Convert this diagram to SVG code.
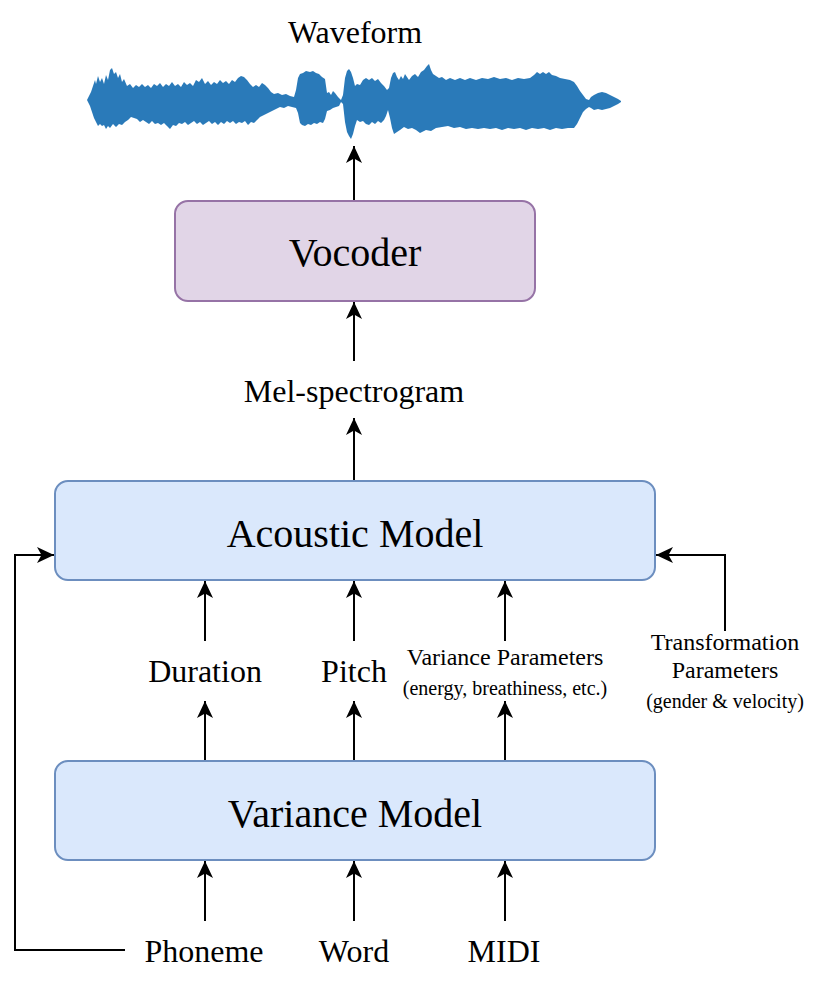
<svg xmlns="http://www.w3.org/2000/svg" width="818" height="982" viewBox="0 0 818 982">
<style>
text{font-family:"Liberation Serif","Times New Roman",serif;fill:#000;text-anchor:middle}
.big{font-size:40px}
.mid{font-size:32px}
.sm{font-size:24px}
.xs{font-size:20px}
.edge{fill:none;stroke:#000;stroke-width:2}
</style>
<defs>
<marker id="ah" markerUnits="userSpaceOnUse" markerWidth="18" markerHeight="18" refX="17" refY="8" orient="auto">
<path d="M0,0 L17,8 L0,16 L4.5,8 z" fill="#000"/>
</marker>
</defs>
<rect width="818" height="982" fill="#fff"/>
<g id="waveform">
<path fill="#2a7ab9" d="M87,100 L89,96 L91,92 L93,86 L95,80 L96,84 L98,76 L100,82 L102,78 L104,84 L106,75 L108,80 L110,70 L112,68 L114,74 L116,72 L118,78 L120,74 L122,82 L124,79 L127,86 L130,84 L133,88 L136,85 L139,87 L142,84 L145,87 L148,85 L151,88 L154,84 L157,86 L160,83 L163,87 L166,84 L169,86 L172,82 L175,86 L178,84 L181,87 L184,82 L187,85 L190,83 L193,86 L196,80 L199,82 L202,78 L205,84 L208,81 L211,85 L214,82 L217,84 L220,80 L223,83 L226,81 L229,84 L232,80 L235,82 L238,78 L241,76 L244,77 L247,80 L250,84 L253,87 L256,85 L259,87 L262,83 L265,85 L268,88 L271,92 L274,94 L278,93 L282,95 L286,94 L290,96 L294,97 L296,90 L298,78 L300,74 L303,73 L306,71 L310,72 L313,71 L316,73 L319,74 L322,77 L325,79 L327,93 L329,92 L331,95 L333,91 L335,93 L338,97 L341,100 L343,95 L345,78 L347,71 L349,69 L351,72 L353,78 L355,86 L357,84 L360,85 L363,80 L366,78 L369,80 L372,78 L375,81 L378,79 L381,83 L384,86 L387,90 L389,88 L391,78 L393,73 L395,72 L397,77 L399,80 L401,76 L403,79 L405,74 L407,77 L409,80 L412,76 L415,74 L418,77 L421,72 L424,70 L427,66 L429,64 L431,70 L433,74 L436,76 L439,78 L442,77 L446,80 L450,78 L455,80 L460,78 L465,80 L470,78 L476,80 L482,78 L488,79 L494,77 L500,79 L506,78 L512,80 L518,78 L524,79 L530,78 L534,75 L537,72 L540,74 L543,72 L546,74 L549,72 L552,75 L556,76 L560,78 L565,79 L570,80 L574,82 L577,86 L580,91 L583,95 L586,99 L589,100 L591,97 L594,95 L598,93 L602,92 L606,93 L610,95 L614,97 L618,99 L621,101 L621,102 L618,104 L614,106 L610,108 L606,109 L602,110 L598,109 L594,110 L591,108 L589,107 L586,109 L583,112 L580,118 L577,124 L574,128 L568,128 L562,129 L556,128 L550,130 L544,128 L538,129 L532,128 L526,130 L520,128 L514,129 L508,128 L502,130 L496,128 L490,129 L484,128 L478,129 L472,128 L466,129 L460,127 L454,128 L448,126 L442,127 L436,128 L431,131 L426,130 L420,133 L416,130 L412,128 L408,129 L404,127 L400,130 L397,132 L394,134 L392,128 L390,118 L388,110 L386,116 L384,120 L381,123 L378,121 L375,124 L372,122 L369,125 L366,124 L363,121 L360,122 L357,120 L355,126 L353,134 L351,139 L349,136 L347,132 L345,122 L343,104 L341,102 L339,106 L336,107 L333,108 L330,110 L327,111 L325,119 L323,123 L320,122 L317,124 L314,123 L311,125 L308,124 L305,126 L302,125 L300,123 L298,113 L296,108 L292,107 L288,106 L284,108 L280,107 L276,109 L272,111 L268,113 L264,115 L260,117 L257,120 L254,123 L251,122 L248,125 L245,121 L242,123 L239,122 L236,124 L233,121 L230,123 L227,121 L224,124 L221,122 L218,125 L215,122 L212,124 L209,121 L206,123 L203,125 L200,122 L197,124 L194,121 L191,123 L188,125 L185,122 L182,124 L179,123 L176,126 L173,125 L170,129 L167,126 L164,123 L161,125 L158,123 L155,124 L152,121 L149,124 L146,122 L143,120 L140,122 L137,119 L134,118 L131,117 L128,120 L125,122 L122,125 L119,124 L116,127 L113,124 L110,128 L108,126 L106,129 L104,125 L102,126 L100,124 L98,126 L96,122 L94,118 L92,112 L90,106 L88,102 Z"/>
<text class="mid" x="355" y="43">Waveform</text>
</g>
<g id="vocoder">
<rect x="175" y="201" width="360" height="100" rx="13" fill="#e1d5e7" stroke="#9673a6" stroke-width="2"/>
<text class="big" x="355" y="266">Vocoder</text>
</g>
<g id="mel">
<text class="mid" x="354" y="402">Mel-spectrogram</text>
</g>
<g id="acoustic">
<rect x="55" y="481" width="600" height="99" rx="13" fill="#dae8fc" stroke="#6c8ebf" stroke-width="2"/>
<text class="big" x="355" y="547">Acoustic Model</text>
</g>
<g id="duration"><text class="mid" x="205" y="682">Duration</text></g>
<g id="pitch"><text class="mid" x="354" y="682">Pitch</text></g>
<g id="variance-params">
<text class="sm" x="505" y="665">Variance Parameters</text>
<text class="xs" x="505" y="695">(energy, breathiness, etc.)</text>
</g>
<g id="transform-params">
<text class="sm" x="725" y="650">Transformation</text>
<text class="sm" x="725" y="678">Parameters</text>
<text class="xs" x="725" y="708">(gender &amp; velocity)</text>
</g>
<g id="variance">
<rect x="55" y="761" width="600" height="99" rx="13" fill="#dae8fc" stroke="#6c8ebf" stroke-width="2"/>
<text class="big" x="355" y="827">Variance Model</text>
</g>
<g id="phoneme"><text class="mid" x="204" y="962">Phoneme</text></g>
<g id="word"><text class="mid" x="354" y="962">Word</text></g>
<g id="midi"><text class="mid" x="504" y="962">MIDI</text></g>
<g id="connectors">
<line class="edge" x1="354" y1="200" x2="354" y2="146" marker-end="url(#ah)"/>
<line class="edge" x1="354" y1="361" x2="354" y2="302" marker-end="url(#ah)"/>
<line class="edge" x1="354" y1="480" x2="354" y2="418" marker-end="url(#ah)"/>
<line class="edge" x1="205" y1="641" x2="205" y2="581" marker-end="url(#ah)"/>
<line class="edge" x1="354" y1="641" x2="354" y2="581" marker-end="url(#ah)"/>
<line class="edge" x1="505" y1="641" x2="505" y2="581" marker-end="url(#ah)"/>
<line class="edge" x1="205" y1="760" x2="205" y2="701" marker-end="url(#ah)"/>
<line class="edge" x1="354" y1="760" x2="354" y2="701" marker-end="url(#ah)"/>
<line class="edge" x1="505" y1="760" x2="505" y2="701" marker-end="url(#ah)"/>
<line class="edge" x1="205" y1="921" x2="205" y2="861" marker-end="url(#ah)"/>
<line class="edge" x1="354" y1="921" x2="354" y2="861" marker-end="url(#ah)"/>
<line class="edge" x1="505" y1="921" x2="505" y2="861" marker-end="url(#ah)"/>
<polyline class="edge" points="125,950 15,950 15,555 54,555" marker-end="url(#ah)"/>
<polyline class="edge" points="725,631 725,555 656,555" marker-end="url(#ah)"/>
</g>
</svg>
